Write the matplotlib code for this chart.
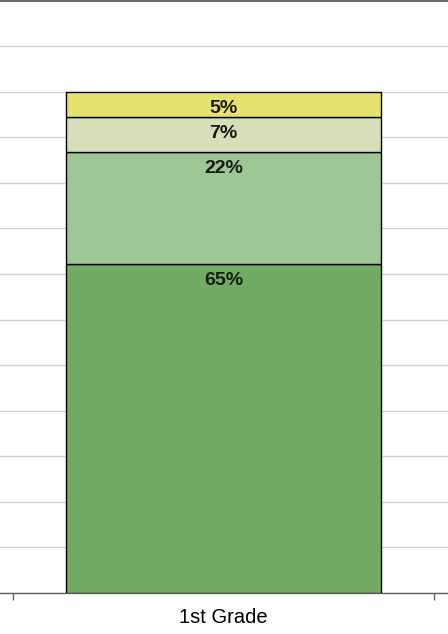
import matplotlib.pyplot as plt
from matplotlib.ticker import MultipleLocator, FixedLocator

plt.rcParams['font.family'] = ['Liberation Sans', 'DejaVu Sans']

categories = ['1st Grade']
levels = ['Level 1', 'Level 2', 'Level 3', 'Level 4']
values = [65, 22, 7, 5]  # percent, bottom to top
labels = ['65%', '22%', '7%', '5%']
colors = ['#72AC64', '#9DC794', '#D8DFB8', '#E5E36E']

fig = plt.figure(figsize=(4.48, 6.34), dpi=100)
ax = fig.add_axes([0, 41 / 634, 1, 592.5 / 634])

# stacked segments
bottom = 0
for val, lab, col in zip(values, labels, colors):
    ax.bar(0, val, width=0.746, bottom=bottom, color=col, edgecolor='black',
           linewidth=1, zorder=3)
    ax.annotate(lab, (0, bottom + val), xytext=(0, -16.5), textcoords='offset pixels',
                ha='center', va='center', fontsize=14, fontweight='bold',
                color='#1a1a1a', zorder=4)
    bottom += val

ax.set_ylim(0, 117)
ax.set_xlim(-0.5 - 13 / 421, 0.5 + 14 / 421)
ax.yaxis.set_major_locator(MultipleLocator(9))
ax.grid(axis='y', color='#d0d0d0', linewidth=1, zorder=0)
ax.tick_params(axis='y', left=False, labelleft=False)

ax.set_xticks([0])
ax.set_xticklabels(categories, fontsize=14.5)
ax.xaxis.set_minor_locator(FixedLocator([-0.5, 0.5]))
ax.tick_params(axis='x', which='major', length=0, pad=11)
ax.tick_params(axis='x', which='minor', length=5, width=1, color='#606060')

for side in ['left', 'right']:
    ax.spines[side].set_visible(False)
ax.spines['bottom'].set_color('#606060')
ax.spines['top'].set_color('#505050')
ax.spines['bottom'].set_linewidth(1)
ax.spines['top'].set_linewidth(1.2)

fig.savefig('out.png', dpi=100)
